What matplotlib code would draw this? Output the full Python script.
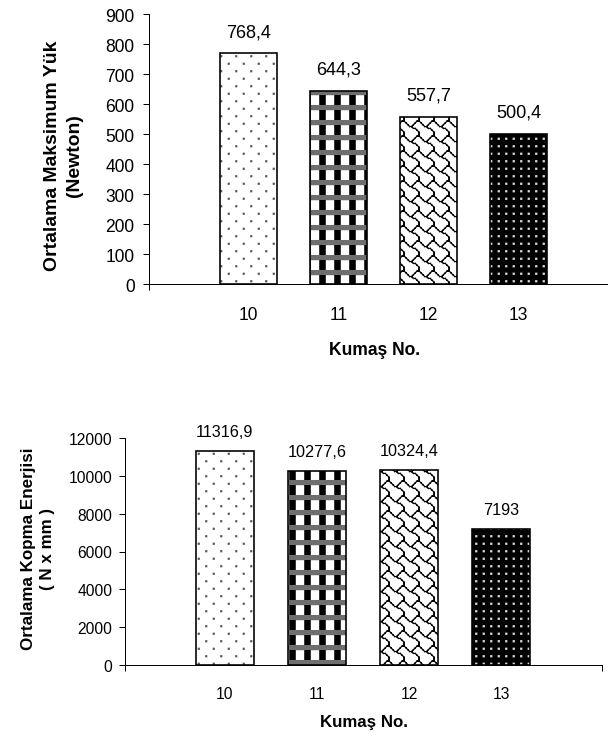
import warnings
import numpy as np
import matplotlib
matplotlib.use("Agg")
import matplotlib.pyplot as plt
from matplotlib import hatch as mhatch
from matplotlib.path import Path

warnings.filterwarnings("ignore")

# veriler
kumas = ["10", "11", "12", "13"]
maks_yuk = [768.4, 644.3, 557.7, 500.4]
kopma_enerjisi = [11316.9, 10277.6, 10324.4, 7193]
yuk_ticks = list(range(0, 901, 100))
enerji_ticks = list(range(0, 12001, 2000))

DPI = 90
TILE = DPI  # tarama karosu 1 inç = DPI piksel

plt.rcParams["font.family"] = ["Liberation Sans", "DejaVu Sans"]
plt.rcParams["hatch.linewidth"] = 1.0


# --- Excel benzeri desenler (özel tarama tipleri) ---
def _nokta(px, py):
    return px / TILE, 1 - py / TILE


def _kare(cx, cy, w, h):
    p = [_nokta(cx - w / 2, cy - h / 2), _nokta(cx + w / 2, cy - h / 2),
         _nokta(cx + w / 2, cy + h / 2), _nokta(cx - w / 2, cy + h / 2),
         _nokta(cx - w / 2, cy - h / 2)]
    return p, True


class Desen(mhatch.HatchPatternBase):
    harf = None

    def __init__(self, hatch, density):
        self.parcalar = self.ciz() if (hatch and self.harf in hatch) else []
        self.num_vertices = sum(len(p) for p, _ in self.parcalar)

    def set_vertices_and_codes(self, vertices, codes):
        i = 0
        for p, kapali in self.parcalar:
            n = len(p)
            vertices[i:i + n] = p
            codes[i:i + n] = Path.LINETO
            codes[i] = Path.MOVETO
            if kapali:
                codes[i + n - 1] = Path.CLOSEPOLY
            i += n


class SeyrekNokta(Desen):
    harf = "a"

    def ciz(self):
        return [_kare((c + 0.25 + 0.5 * (r % 2)) * 15, (r + 0.5) * 7.5, 0.9, 0.9)
                for r in range(12) for c in range(6)]


class EkoseSiyah(Desen):
    harf = "b"

    def ciz(self):
        return [_kare(i * 15 + 7.5, j * 15 + 10.0, 5.25, 8.75)
                for i in range(6) for j in range(6)]


class EkoseGri(Desen):
    harf = "c"

    def ciz(self):
        return [_kare(45, j * 15 + 2.6, 92, 4.0) for j in range(6)]


class Kiremit(Desen):
    harf = "d"
    ana = [(-1, 0), (0, 1), (1, 2), (2, 3), (3, 3), (4, 4), (5, 4), (6, 5),
           (7, 6), (7, 7), (7, 8)]
    kol = [(7, 0), (6, 0), (5, 1), (4, 2), (3, 3)]

    def ciz(self):
        s = 15 / 8
        out = []
        for i in range(-1, 7):
            for j in range(-1, 7):
                for hat in (self.ana, self.kol):
                    pts = [_nokta((c + 0.5) * s + i * 15, (r + 0.5) * s + j * 15)
                           for c, r in hat]
                    for a, b in zip(pts[:-1], pts[1:]):
                        out.append(([a, b], False))
        return out


class SikNokta(Desen):
    harf = "e"

    def ciz(self):
        return [_kare((c + 0.5) * 7.5, (r + 0.5) * 7.5, 1.0, 1.0)
                for r in range(12) for c in range(12)]


mhatch._hatch_types.extend([SeyrekNokta, EkoseSiyah, EkoseGri, Kiremit, SikNokta])

# her kumaş için dolgu ve desen(ler)
stiller = [
    ("white", [("a", "#505050")]),
    ("white", [("c", "#6e6e6e"), ("b", "black")]),
    ("white", [("d", "black")]),
    ("black", [("e", "#dcdcdc")]),
]


def desenli_bar(ax, x, h, w, stil):
    yuz, desenler = stil
    ax.bar(x, h, w, color=yuz, linewidth=0)
    for kod, renk in desenler:
        ax.bar(x, h, w, fill=False, hatch=kod, edgecolor=renk, linewidth=0)
    ax.bar(x, h, w, fill=False, edgecolor="black", linewidth=1.3)


def etiket(v):
    return f"{v:g}".replace(".", ",")


def grafik(ax, degerler, ticks, genislik, xlim, tick_fs, val_fs, val_ofs,
           ylabel, ylab_fs, ylab_xy, ylab_ls, xlab_fs, xlab_xy, xpad, ypad):
    x = np.arange(len(kumas))
    for i in range(len(kumas)):
        desenli_bar(ax, x[i], degerler[i], genislik, stiller[i])
        ax.annotate(etiket(degerler[i]), (x[i], degerler[i]), xytext=(0, val_ofs),
                    textcoords="offset points", ha="center", va="baseline",
                    fontsize=val_fs)
    ax.set_xlim(*xlim)
    ax.set_ylim(ticks[0], ticks[-1])
    ax.set_yticks(ticks)
    ax.set_xticks(x, kumas)
    ax.set_xticks(xlim, minor=True)
    ax.tick_params(axis="x", which="major", length=0, pad=xpad, labelsize=tick_fs)
    ax.tick_params(axis="x", which="minor", length=4.5, width=0.8)
    ax.tick_params(axis="y", length=4.5, width=0.8, pad=ypad, labelsize=tick_fs)
    for k in ("top", "right"):
        ax.spines[k].set_visible(False)
    for k in ("left", "bottom"):
        ax.spines[k].set_linewidth(0.8)
    ax.set_ylabel(ylabel, fontsize=ylab_fs, fontweight="bold", linespacing=ylab_ls)
    ax.yaxis.set_label_coords(*ylab_xy)
    ax.set_xlabel("Kumaş No.", fontsize=xlab_fs, fontweight="bold")
    ax.xaxis.set_label_coords(*xlab_xy)


W, H = 608, 738
fig = plt.figure(figsize=(W / DPI, H / DPI), dpi=DPI)

ax1 = fig.add_axes([149 / W, 1 - 285 / H, 469 / W, 270 / H])
grafik(ax1, maks_yuk, yuk_ticks, 0.64, (-1.105, 4.105), 14, 14.5, 13.6,
       "Ortalama Maksimum Yük\n(Newton)", 15.5, (-0.1407, 0.478), 1.35,
       14, (0.48, -0.211), 17.2, 7)

ax2 = fig.add_axes([125 / W, 1 - 666 / H, 477 / W, 227 / H])
grafik(ax2, kopma_enerjisi, enerji_ticks, 0.63, (-1.08, 4.09), 12.5, 13, 11.6,
       "Ortalama Kopma Enerjisi\n( N x mm )", 13.6, (-0.1468, 0.515), 1.3,
       13.5, (0.5, -0.218), 16.5, 5.5)

fig.savefig("out.png", dpi=DPI)
